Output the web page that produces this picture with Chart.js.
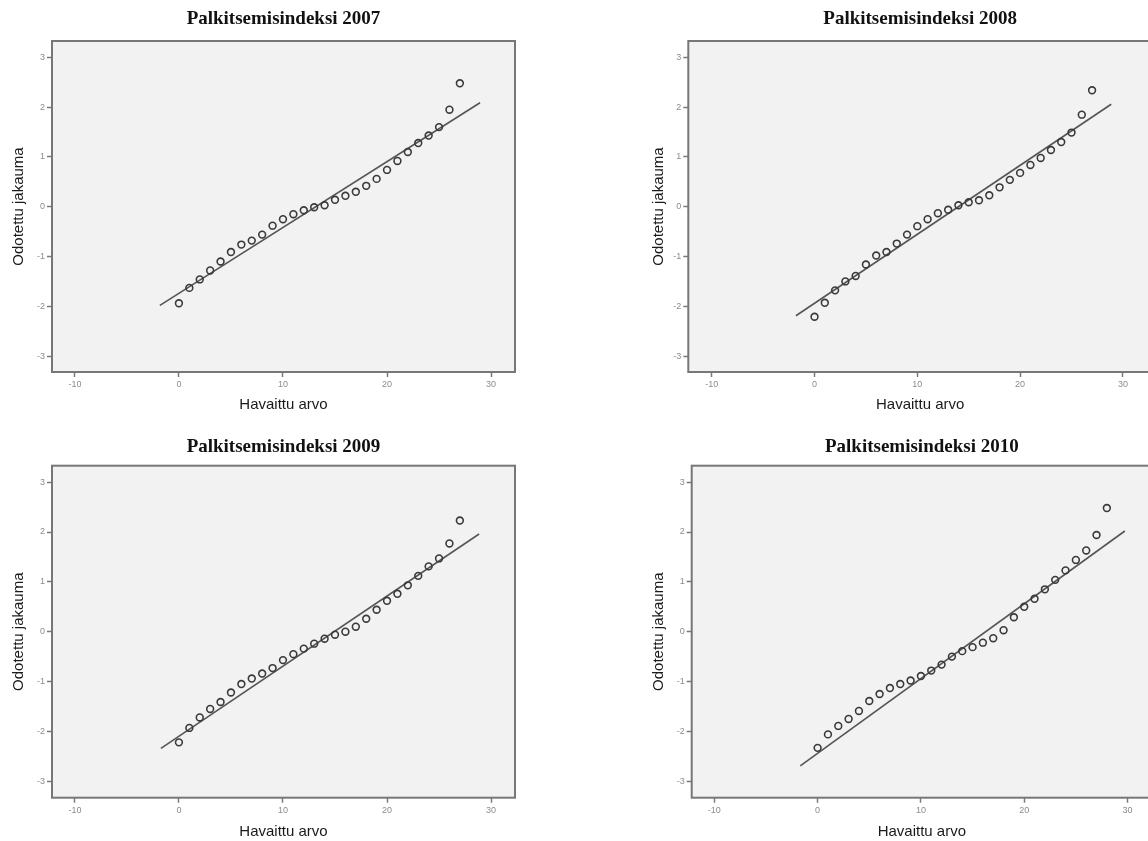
<!DOCTYPE html>
<html>
<head>
<meta charset="utf-8">
<script src="https://cdn.jsdelivr.net/npm/chart.js@4.4.1/dist/chart.umd.min.js"></script>
<style>
  html, body { margin: 0; padding: 0; background: #ffffff; }
  body { width: 1148px; height: 841px; overflow: hidden; position: relative; }
  canvas { position: absolute; }
</style>
</head>
<body>
<canvas id="c2007" width="560" height="425" style="left:0px;top:0px"></canvas>
<canvas id="c2008" width="560" height="425" style="left:620px;top:0px"></canvas>
<canvas id="c2009" width="560" height="416" style="left:0px;top:425px"></canvas>
<canvas id="c2010" width="560" height="416" style="left:620px;top:425px"></canvas>
<script>
// ---------------- DATA ----------------
const titles = ["Palkitsemisindeksi 2007", "Palkitsemisindeksi 2008", "Palkitsemisindeksi 2009", "Palkitsemisindeksi 2010"];
const xAxisTitle = "Havaittu arvo";
const yAxisTitle = "Odotettu jakauma";
const xTickValues = [-10, 0, 10, 20, 30];
const yTickValues = [-3, -2, -1, 0, 1, 2, 3];

const havaittu2007 = [0,1,2,3,4,5,6,7,8,9,10,11,12,13,14,15,16,17,18,19,20,21,22,23,24,25,26,27];
const odotettu2007 = [-1.94,-1.63,-1.46,-1.28,-1.10,-0.91,-0.76,-0.68,-0.56,-0.38,-0.25,-0.15,-0.07,-0.01,0.03,0.14,0.22,0.30,0.42,0.56,0.74,0.92,1.10,1.28,1.43,1.60,1.95,2.48];
const viiva2007X = [-1.83, 28.94];
const viiva2007Y = [-1.98, 2.09];

const havaittu2008 = [0,1,2,3,4,5,6,7,8,9,10,11,12,13,14,15,16,17,18,19,20,21,22,23,24,25,26,27];
const odotettu2008 = [-2.21,-1.93,-1.68,-1.50,-1.39,-1.16,-0.98,-0.91,-0.74,-0.56,-0.39,-0.25,-0.13,-0.06,0.03,0.09,0.13,0.23,0.39,0.54,0.68,0.84,0.98,1.14,1.30,1.49,1.85,2.34];
const viiva2008X = [-1.81, 28.86];
const viiva2008Y = [-2.19, 2.06];

const havaittu2009 = [0,1,2,3,4,5,6,7,8,9,10,11,12,13,14,15,16,17,18,19,20,21,22,23,24,25,26,27];
const odotettu2009 = [-2.22,-1.93,-1.72,-1.55,-1.41,-1.22,-1.05,-0.94,-0.84,-0.73,-0.57,-0.45,-0.34,-0.24,-0.14,-0.06,0.00,0.10,0.26,0.44,0.62,0.76,0.93,1.12,1.31,1.47,1.77,2.23];
const viiva2009X = [-1.73, 28.85];
const viiva2009Y = [-2.34, 1.96];

const havaittu2010 = [0,1,2,3,4,5,6,7,8,9,10,11,12,13,14,15,16,17,18,19,20,21,22,23,24,25,26,27,28];
const odotettu2010 = [-2.33,-2.06,-1.89,-1.75,-1.59,-1.39,-1.25,-1.13,-1.05,-0.98,-0.89,-0.78,-0.66,-0.50,-0.39,-0.31,-0.22,-0.13,0.03,0.29,0.50,0.66,0.85,1.04,1.23,1.44,1.63,1.94,2.48];
const viiva2010X = [-1.68, 29.74];
const viiva2010Y = [-2.69, 2.02];

// ---------------- LAYOUT (page coordinates) ----------------
const panels = [
  { id: 'c2007', title: titles[0], xs: havaittu2007, ys: odotettu2007, lx: viiva2007X, ly: viiva2007Y,
    cx: 0, cy: 0, cw: 560, ch: 425, L: 52, T: 41, R: 515, B: 372, yTitleX: 18.7, titleY: 19, xTitleY: 405,
    xMin: -12.2, xMax: 32.3, yMin: -3.32, yMax: 3.33 },
  { id: 'c2008', title: titles[1], xs: havaittu2008, ys: odotettu2008, lx: viiva2008X, ly: viiva2008Y,
    cx: 620, cy: 0, cw: 560, ch: 425, L: 688.3, T: 41, R: 1152, B: 372, yTitleX: 658.7, titleY: 19, xTitleY: 405,
    xMin: -12.28, xMax: 32.83, yMin: -3.32, yMax: 3.33 },
  { id: 'c2009', title: titles[2], xs: havaittu2009, ys: odotettu2009, lx: viiva2009X, ly: viiva2009Y,
    cx: 0, cy: 425, cw: 560, ch: 416, L: 52, T: 465.7, R: 515, B: 797.7, yTitleX: 18.7, titleY: 447, xTitleY: 831.5,
    xMin: -12.2, xMax: 32.3, yMin: -3.33, yMax: 3.33 },
  { id: 'c2010', title: titles[3], xs: havaittu2010, ys: odotettu2010, lx: viiva2010X, ly: viiva2010Y,
    cx: 620, cy: 425, cw: 560, ch: 416, L: 691.7, T: 465.7, R: 1152, B: 797.7, yTitleX: 658.7, titleY: 447, xTitleY: 831.5,
    xMin: -12.19, xMax: 32.37, yMin: -3.33, yMax: 3.33 }
];

const TITLE_FONT = { family: "'Liberation Serif', 'Times New Roman', serif", size: 19, weight: 'bold', lineHeight: 1.2 };
const AXIS_TITLE_FONT = { family: "'Liberation Sans', Arial, sans-serif", size: 15, weight: 'normal', lineHeight: 1.2 };
const TICK_FONT = { family: "'Liberation Sans', Arial, sans-serif", size: 9 };

const framePlugin = {
  id: 'frame',
  beforeDatasetsDraw(chart) {
    const { ctx, chartArea: a } = chart;
    ctx.save();
    ctx.fillStyle = '#f1f2f1';
    ctx.fillRect(a.left, a.top, a.right - a.left, a.bottom - a.top);
    ctx.strokeStyle = '#777777';
    ctx.lineWidth = 2;
    ctx.strokeRect(a.left, a.top, a.right - a.left, a.bottom - a.top);
    ctx.restore();
  }
};

function makePanel(p) {
  const l = p.L - p.cx, t = p.T - p.cy, r = p.R - p.cx, b = p.B - p.cy;
  const yt = p.yTitleX - p.cx, tt = p.titleY - p.cy, xt = p.xTitleY - p.cy;
  const axHalf = AXIS_TITLE_FONT.size * AXIS_TITLE_FONT.lineHeight / 2;
  const tHalf = TITLE_FONT.size * TITLE_FONT.lineHeight / 2;
  const padLeft = yt - axHalf;
  const yWidth = l - padLeft;
  const padRight = p.cw - r;
  const titlePadTop = tt - tHalf;
  const titlePadBottom = t - titlePadTop - 2 * tHalf;
  const xHeight = p.ch - b;
  const xTitlePadBottom = (p.ch - xt) - axHalf;

  const points = p.xs.map((x, i) => ({ x: x, y: p.ys[i] }));
  const linePts = p.lx.map((x, i) => ({ x: x, y: p.ly[i] }));

  new Chart(document.getElementById(p.id), {
    type: 'scatter',
    data: {
      datasets: [
        { type: 'line', data: linePts, borderColor: '#555555', borderWidth: 1.6, pointRadius: 0, fill: false, order: 2 },
        { type: 'scatter', data: points, pointRadius: 3.4, pointBorderWidth: 1.6,
          pointBorderColor: '#3a3a3a', pointBackgroundColor: 'rgba(0,0,0,0)', borderColor: '#3a3a3a',
          backgroundColor: 'rgba(0,0,0,0)', order: 1 }
      ]
    },
    options: {
      responsive: false,
      animation: false,
      events: [],
      layout: { padding: { left: padLeft, right: padRight, top: 0, bottom: 0 } },
      plugins: {
        legend: { display: false },
        tooltip: { enabled: false },
        title: {
          display: true, text: p.title, fullSize: false, color: '#111111',
          font: TITLE_FONT, padding: { top: titlePadTop, bottom: titlePadBottom }
        }
      },
      scales: {
        x: {
          type: 'linear', position: 'bottom', min: p.xMin, max: p.xMax,
          afterBuildTicks: (axis) => { axis.ticks = xTickValues.map(v => ({ value: v })); },
          afterFit: (axis) => { axis.height = xHeight; },
          ticks: { color: '#8c8c8c', font: TICK_FONT, padding: 2, maxRotation: 0, callback: (v) => String(v) },
          grid: { display: true, drawOnChartArea: false, drawTicks: true, tickLength: 5, tickColor: '#7a7a7a', tickWidth: 1.5 },
          border: { display: false },
          title: { display: true, text: xAxisTitle, color: '#1a1a1a', font: AXIS_TITLE_FONT, padding: { top: 0, bottom: xTitlePadBottom } }
        },
        y: {
          type: 'linear', position: 'left', min: p.yMin, max: p.yMax,
          afterBuildTicks: (axis) => { axis.ticks = yTickValues.map(v => ({ value: v })); },
          afterFit: (axis) => { axis.width = yWidth; },
          ticks: { color: '#8c8c8c', font: TICK_FONT, padding: 2, callback: (v) => String(v) },
          grid: { display: true, drawOnChartArea: false, drawTicks: true, tickLength: 5, tickColor: '#7a7a7a', tickWidth: 1.5 },
          border: { display: false },
          title: { display: true, text: yAxisTitle, color: '#1a1a1a', font: AXIS_TITLE_FONT, padding: { top: 0, bottom: 0 } }
        }
      }
    },
    plugins: [framePlugin]
  });
}

panels.forEach(makePanel);
</script>
</body>
</html>
